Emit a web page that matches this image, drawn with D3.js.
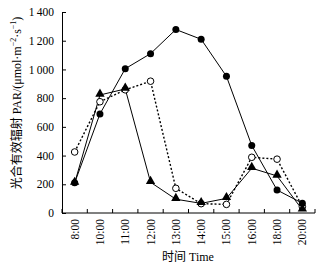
<!DOCTYPE html>
<html lang="zh">
<head>
  <meta charset="UTF-8">
  <title>PAR diurnal</title>
  <script src="https://d3js.org/d3.v7.min.js"></script>
  <style>
    body { margin: 0; background: #fff; }
    svg { display: block; }
    .tick text { font-family: "Liberation Serif", "DejaVu Serif", serif; font-size: 11.5px; fill: #000; }
    .domain, .tick line { stroke: #000; stroke-width: 1; }
    .lbl { font-family: "Liberation Serif", "Noto Sans CJK SC", serif; fill: #000; }
  </style>
</head>
<body>
  <svg id="chart" width="321" height="269"></svg>
  <script>
    // categories on x axis
    const times = ["8:00", "10:00", "11:00", "12:00", "13:00", "14:00", "15:00", "16:00", "18:00", "20:00"];
    // three PAR series
    const sunny = [210, 690, 1005, 1110, 1278, 1210, 952, 470, 160, 68];
    const cloudy = [425, 775, 858, 918, 172, 65, 60, 388, 375, 44];
    const overcast = [208, 822, 864, 214, 96, 67, 102, 312, 258, 22];
    const yTicks = [0, 200, 400, 600, 800, 1000, 1200, 1400];

    const svg = d3.select("#chart");
    const mLeft = 62, mRight = 315, mTop = 12, mBottom = 213;

    const x = d3.scaleBand().domain(times).range([mLeft, mRight]);
    const y = d3.scaleLinear().domain([0, 1400]).range([mBottom, mTop]);

    const fmt = v => v >= 1000 ? Math.floor(v / 1000) + "\u2009" + d3.format("03d")(v % 1000) : String(v);

    // y axis, ticks pointing inward
    svg.append("g")
      .attr("transform", `translate(${mLeft},0)`)
      .call(d3.axisLeft(y).tickValues(yTicks).tickSizeInner(-4).tickSizeOuter(0).tickPadding(8).tickFormat(fmt));

    // x axis: ticks on band boundaries, labels rotated
    const xAxis = svg.append("g").attr("transform", `translate(0,${mBottom})`);
    xAxis.append("line").attr("class", "domain")
      .attr("x1", mLeft).attr("x2", mRight).attr("y1", 0).attr("y2", 0);
    const bounds = times.map(t => x(t)).concat([mRight]);
    xAxis.selectAll(".bt").data(bounds).enter().append("line")
      .attr("class", "bt")
      .attr("x1", d => d).attr("x2", d => d)
      .attr("y1", 0).attr("y2", -4)
      .attr("stroke", "#000");
    xAxis.selectAll(".xt").data(times).enter().append("text")
      .attr("class", "lbl")
      .style("font-size", "11.5px")
      .attr("transform", d => `translate(${x(d) + x.bandwidth() / 2 + 4},6) rotate(-90)`)
      .attr("text-anchor", "end")
      .text(d => d);

    const cx = t => x(t) + x.bandwidth() / 2;

    function drawLine(vals, dash) {
      const line = d3.line().x((d, i) => cx(times[i])).y(d => y(d));
      svg.append("path").datum(vals)
        .attr("d", line)
        .attr("fill", "none")
        .attr("stroke", "#000")
        .attr("stroke-width", dash ? 1.4 : 1)
        .attr("stroke-dasharray", dash || null);
    }

    drawLine(cloudy, "2,2");
    drawLine(overcast, null);
    drawLine(sunny, null);

    // markers
    svg.selectAll(".oc").data(cloudy).enter().append("circle")
      .attr("cx", (d, i) => cx(times[i])).attr("cy", d => y(d))
      .attr("r", 3.3).attr("fill", "#fff").attr("stroke", "#000").attr("stroke-width", 1);

    const tri = d3.symbol().type(d3.symbolTriangle).size(38);
    svg.selectAll(".tr").data(overcast).enter().append("path")
      .attr("d", tri)
      .attr("transform", (d, i) => `translate(${cx(times[i])},${y(d) - 1})`)
      .attr("fill", "#000");

    svg.selectAll(".fc").data(sunny).enter().append("circle")
      .attr("cx", (d, i) => cx(times[i])).attr("cy", d => y(d))
      .attr("r", 3.5).attr("fill", "#000");

    // axis titles
    svg.append("text").attr("class", "lbl")
      .attr("transform", "translate(21,103) rotate(-90)")
      .attr("text-anchor", "middle")
      .style("font-size", "12px")
      .html('<tspan font-family="Noto Sans CJK SC">光合有效辐射</tspan> PAR/(μmol·m<tspan dy="-5" font-size="8">−2</tspan><tspan dy="5">·s</tspan><tspan dy="-5" font-size="8">−1</tspan><tspan dy="5">)</tspan>');

    svg.append("text").attr("class", "lbl")
      .attr("x", 188).attr("y", 261)
      .attr("text-anchor", "middle")
      .style("font-size", "12px")
      .html('<tspan font-family="Noto Sans CJK SC">时间</tspan> Time');
  </script>
</body>
</html>
